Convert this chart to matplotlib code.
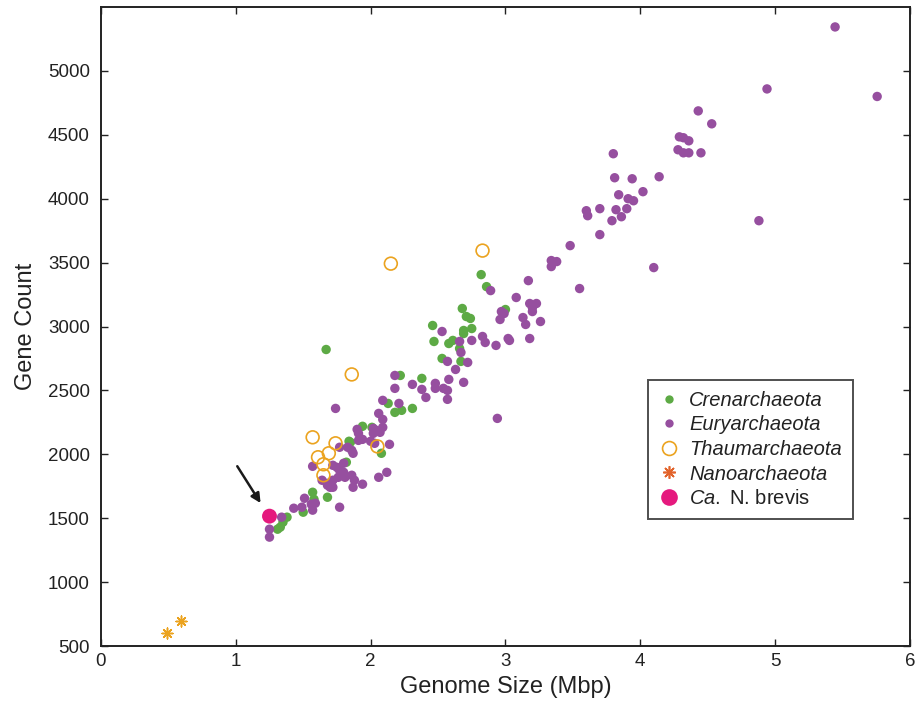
import matplotlib
matplotlib.use("Agg")
import matplotlib.pyplot as plt
from matplotlib.lines import Line2D

plt.rcParams['font.family'] = ['Liberation Sans', 'DejaVu Sans']
plt.rcParams['mathtext.fontset'] = 'custom'
plt.rcParams['mathtext.it'] = 'Liberation Sans:italic'
plt.rcParams['mathtext.rm'] = 'Liberation Sans'

# ---- data ----
cren_x = [1.38, 1.35, 1.33, 1.31, 1.50, 1.57, 1.58, 1.68, 1.67, 1.82, 1.84, 1.85, 1.94, 2.01, 2.08,
          2.13, 2.18, 2.23, 2.22, 2.31, 2.38, 2.46, 2.47, 2.53, 2.58, 2.61, 2.66, 2.67, 2.68,
          2.69, 2.75, 2.69, 2.71, 2.74, 2.82, 2.86, 3.00]
cren_y = [1508, 1469, 1430, 1414, 1547, 1703, 1648, 1664, 2820, 1938, 2102, 2094, 2219, 2211, 2008,
          2398, 2328, 2344, 2617, 2359, 2594, 3008, 2883, 2750, 2867, 2891, 2828, 2727, 3141,
          2969, 2984, 2945, 3078, 3063, 3406, 3312, 3133]

eury_x = [5.445, 5.757, 4.94, 4.43, 4.53, 4.29, 4.32, 4.36, 4.28, 4.32, 4.36, 4.45, 3.80, 3.81,
          3.94, 4.14, 4.02, 3.84, 3.91, 3.95, 3.60, 3.61, 3.70, 3.82, 3.90, 3.79, 3.86, 3.70,
          3.48, 3.34, 3.38, 3.34, 4.10, 3.55, 4.88,
          3.17, 3.18, 3.23, 3.20, 3.20, 3.13, 3.15, 3.26, 2.89, 3.08, 2.97, 2.99, 2.96, 2.53,
          2.83, 2.85, 2.75, 2.66, 2.93, 3.02, 3.03, 3.18, 2.67, 2.57, 2.72, 2.63, 2.58, 2.69,
          2.31, 2.38, 2.48, 2.48, 2.54, 2.57, 2.41, 2.57, 2.94,
          2.18, 2.18, 2.09, 2.21, 1.74, 2.06, 2.09, 1.90, 1.91, 2.04, 2.07, 2.02, 1.91, 1.94,
          2.00, 2.03, 2.14, 1.83, 1.86, 1.87, 1.77, 1.57, 2.06, 2.12, 2.02, 2.09,
          1.72, 1.75, 1.77, 1.80, 1.81, 1.76, 1.72, 1.70, 1.68, 1.72, 1.86, 1.88, 1.87, 1.94,
          1.80, 1.64, 1.68, 1.70, 1.77, 1.43, 1.49, 1.51, 1.56, 1.57, 1.59, 1.34, 1.25, 1.25]
eury_y = [5344, 4800, 4859, 4687, 4586, 4484, 4477, 4453, 4383, 4359, 4359, 4359, 4352, 4164,
          4156, 4172, 4055, 4031, 4000, 3984, 3906, 3867, 3922, 3914, 3922, 3828, 3859, 3719,
          3633, 3516, 3508, 3469, 3461, 3297, 3828,
          3359, 3180, 3180, 3148, 3117, 3070, 3016, 3039, 3281, 3227, 3117, 3102, 3055, 2961,
          2922, 2875, 2891, 2883, 2852, 2906, 2891, 2906, 2797, 2727, 2719, 2664, 2586, 2563,
          2547, 2508, 2555, 2516, 2516, 2500, 2445, 2430, 2281,
          2617, 2516, 2422, 2398, 2359, 2320, 2273, 2195, 2164, 2188, 2172, 2164, 2109, 2117,
          2102, 2086, 2078, 2055, 2031, 2008, 2055, 1906, 1820, 1859, 2203, 2211,
          1914, 1898, 1875, 1859, 1820, 1820, 1797, 1758, 1758, 1742, 1836, 1797, 1742, 1766,
          1930, 1797, 1773, 1742, 1586, 1578, 1586, 1656, 1609, 1563, 1617, 1508, 1414, 1352]

thaum_x = [1.57, 1.61, 1.65, 1.65, 1.69, 1.74, 2.05, 1.86, 2.15, 2.83]
thaum_y = [2133, 1977, 1922, 1836, 2008, 2086, 2062, 2625, 3492, 3594]

nano_x = [0.49, 0.59]
nano_y = [602, 695]

brevis_x = [1.25]
brevis_y = [1516]

x_ticks = [0, 1, 2, 3, 4, 5, 6]
y_ticks = [500, 1000, 1500, 2000, 2500, 3000, 3500, 4000, 4500, 5000]

legend_labels = ['Crenarchaeota', 'Euryarchaeota', 'Thaumarchaeota', 'Nanoarchaeota',
                 '$\\mathit{Ca.}$ N. brevis']

c_green = '#5DAA45'
c_purple = '#964F9F'
c_orange = '#EBA31F'
c_nano_leg = '#E2632B'
c_mag = '#E5197E'
c_text = '#222222'

fig = plt.figure(figsize=(9.22, 7.15), dpi=100)
ax = fig.add_axes([0.1095, 0.0965, 0.8774, 0.8937])

ax.scatter(cren_x, cren_y, s=46, color=c_green, edgecolors='none', zorder=2)
ax.scatter(eury_x, eury_y, s=46, color=c_purple, edgecolors='none', zorder=3)
ax.scatter(thaum_x, thaum_y, s=85, facecolors='none', edgecolors=c_orange, linewidths=1.2, zorder=4)
ax.scatter(nano_x, nano_y, s=60, marker=(8, 2, 0), color=c_orange, linewidths=1.1, zorder=4)
ax.scatter(brevis_x, brevis_y, s=115, color=c_mag, edgecolors='none', zorder=5)

ax.annotate('', xy=(1.195, 1600), xytext=(1.0, 1925),
            arrowprops=dict(arrowstyle='-|>', color='#1a1a1a', lw=1.8, mutation_scale=14))

ax.set_xlim(0, 6)
ax.set_ylim(500, 5500)
ax.set_xticks(x_ticks)
ax.set_yticks(y_ticks)
ax.tick_params(direction='in', length=5, width=1.0, top=True, right=True,
               labelsize=13.5, colors=c_text, pad=5)
ax.tick_params(axis='y', pad=8)
for sp in ax.spines.values():
    sp.set_linewidth(1.4)
    sp.set_color(c_text)

ax.set_xlabel('Genome Size (Mbp)', fontsize=17, color=c_text, labelpad=4)
ax.set_ylabel('Gene Count', fontsize=17, color=c_text, labelpad=8)

handles = [
    Line2D([], [], ls='none', marker='o', ms=6, color=c_green, mec='none'),
    Line2D([], [], ls='none', marker='o', ms=6, color=c_purple, mec='none'),
    Line2D([], [], ls='none', marker='o', ms=10, mfc='none', mec=c_orange, mew=1.2),
    Line2D([], [], ls='none', marker=(8, 2, 0), ms=9, color=c_nano_leg, mew=1.2),
    Line2D([], [], ls='none', marker='o', ms=12, color=c_mag, mec='none'),
]
leg = ax.legend(handles, legend_labels, loc='upper left', bbox_to_anchor=(0.676, 0.417),
                frameon=True, fancybox=False, fontsize=14.5, handlelength=1.0,
                handletextpad=0.5, borderpad=0.55, labelspacing=0.28, borderaxespad=0)
leg.get_frame().set_edgecolor(c_text)
leg.get_frame().set_linewidth(1.4)
texts = leg.get_texts()
for t in texts:
    t.set_color(c_text)
for t in texts[:4]:
    t.set_fontstyle('italic')

fig.savefig('out.png', dpi=100)
